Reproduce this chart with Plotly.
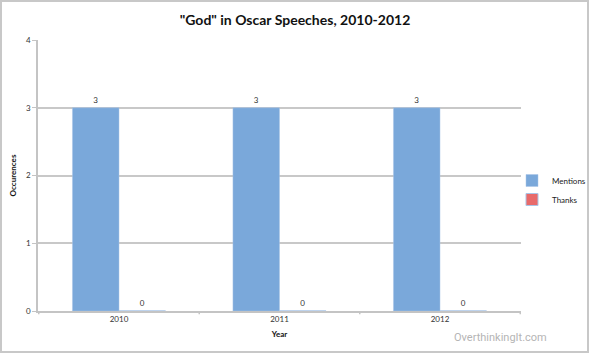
import plotly.graph_objects as go

years = ["2010", "2011", "2012"]
mentions = [3, 3, 3]
thanks = [0, 0, 0]
y_ticks = [0, 1, 2, 3, 4]

FONT = "Lato"
fig = go.Figure()
fig.add_trace(go.Bar(
    x=years, y=mentions, name="Mentions",
    marker=dict(color="#7aa8da", line=dict(color="#a9c4e6", width=0.5)),
    text=mentions, textposition="outside", cliponaxis=False,
    textfont=dict(size=8, color="#333333", family=FONT),
))
fig.add_trace(go.Bar(
    x=years, y=thanks, name="Thanks",
    marker=dict(color="#e86a6a", line=dict(color="#a9c4e6", width=1)),
    text=thanks, textposition="outside", cliponaxis=False,
    textfont=dict(size=8, color="#333333", family=FONT),
))

fig.update_layout(
    width=590, height=353,
    margin=dict(l=38, r=69, t=40, b=42, autoexpand=False),
    paper_bgcolor="white", plot_bgcolor="white",
    barmode="group", bargap=0.42, bargroupgap=0,
    font=dict(family=FONT, size=8, color="#333333"),
    title=dict(text='"God" in Oscar Speeches, 2010-2012', x=0.5, xanchor="center",
               xref="container", y=1 - 20 / 353, yanchor="middle",
               font=dict(family=FONT, size=14, color="#111111", weight="bold")),
    legend=dict(xref="container", yref="container", x=512 / 590, xanchor="left",
                y=1 - 190 / 353, yanchor="middle",
                font=dict(size=8, color="#222222", family=FONT),
                itemwidth=30, tracegroupgap=0, bgcolor="rgba(0,0,0,0)"),
    showlegend=True,
)
fig.update_xaxes(
    showline=True, linecolor="#c4c4c4", linewidth=1.5,
    ticks="", tickfont=dict(size=8, color="#333333"),
    title=dict(text="<b>Year</b>", font=dict(size=8, color="#111111"), standoff=8),
    showgrid=False,
)
fig.update_yaxes(
    range=[0, 4], tickvals=y_ticks, showline=True, linecolor="#c4c4c4", linewidth=1.5,
    ticks="outside", ticklen=4, tickcolor="#c4c4c4",
    gridcolor="#c8c8c8", gridwidth=1.5,
    tickfont=dict(size=8, color="#333333"),
    title=dict(text="<b>Occurences</b>", font=dict(size=8, color="#111111"), standoff=8),
    zeroline=False,
)
# category boundary ticks on x axis
for xb in [-0.5, 0.5, 1.5, 2.5]:
    fig.add_shape(type="line", xref="x", yref="paper", x0=xb, x1=xb, y0=0, y1=-0.012,
                  line=dict(color="#c4c4c4", width=1.5))
# frame
fig.add_shape(type="rect", xref="paper", yref="paper", x0=-37/483, x1=1 + 67/483,
              y0=-41/271, y1=1 + 39/271, line=dict(color="#c8c8c8", width=2))
fig.add_annotation(text="OverthinkingIt.com", xref="paper", yref="paper",
                   x=(500 - 38) / 483, y=-(337 - 311) / 271, showarrow=False,
                   xanchor="center", yanchor="middle",
                   font=dict(family="Roboto", size=11, color="#b5b5b5"))
fig.write_html("out.html")
